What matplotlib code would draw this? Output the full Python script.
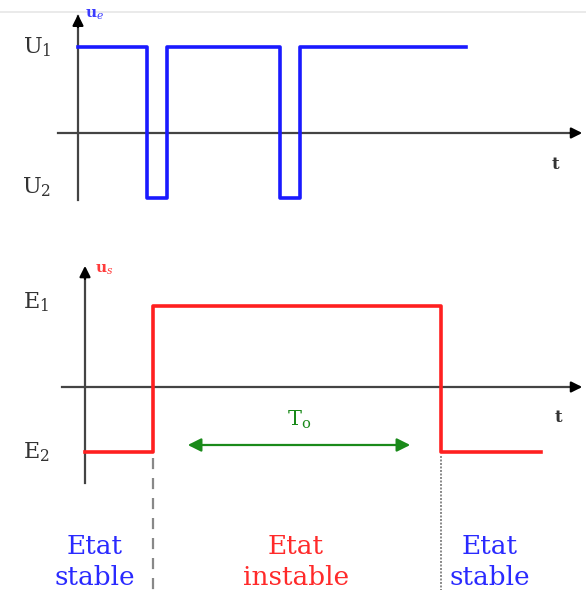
import numpy as np
import matplotlib
matplotlib.use("Agg")
import matplotlib.pyplot as plt

plt.rcParams['font.family'] = ['DejaVu Serif']
plt.rcParams['mathtext.fontset'] = 'dejavuserif'

# input signal u_e : time of each edge and level between edges
ue_t = [0.0, 3.45, 3.45, 4.45, 4.45, 10.1, 10.1, 11.1, 11.1, 19.4]
ue_v = [1.0, 1.0, -0.76, -0.76, 1.0, 1.0, -0.76, -0.76, 1.0, 1.0]
U1, U2 = 1.0, -0.76

# output signal u_s
us_t = [0.0, 3.4, 3.4, 17.8, 17.8, 22.8]
us_v = [-0.8, -0.8, 1.0, 1.0, -0.8, -0.8]
E1, E2 = 1.0, -0.8

t_arrow = [5.0, 16.4]   # T0 arrow ends
labels = ["Etat\nstable", "Etat\ninstable", "Etat\nstable"]
label_t = [0.5, 10.55, 20.25]
label_col = ["#2a2aff", "#ff2a2a", "#2a2aff"]

W, H = 586, 598
fig = plt.figure(figsize=(5.86, 5.98), dpi=100)


def box(y0, y1):
    return [0, 1 - y1 / H, 1, (y1 - y0) / H]


axis_col = "#444444"

# ---- top panel (input) ----
ax1 = fig.add_axes(box(0, 215))
ax1.set_xlim(-78 / 20, (W - 78) / 20)
ax1.set_ylim(-(215 - 133) / 86, 133 / 86)
ax1.axis("off")
ax1.axhline(1.407, color="#e6e6e6", lw=1.2)
ax1.plot([0, 0], [-0.78, 1.36], color=axis_col, lw=1.6)
ax1.annotate("", xy=(0, 1.41), xytext=(0, 1.2),
             arrowprops=dict(arrowstyle="-|>", color="black", lw=1.6, mutation_scale=16))
ax1.plot([-1.0, 25.0], [0, 0], color=axis_col, lw=1.6)
ax1.annotate("", xy=(25.35, 0), xytext=(24.5, 0),
             arrowprops=dict(arrowstyle="-|>", color="black", lw=1.6, mutation_scale=16))
ax1.plot(ue_t, ue_v, color="#1a1aff", lw=2.6)
ax1.text(-2.05, U1, r"U$_1$", fontsize=16, ha="center", va="center", color="#333333")
ax1.text(-2.05, U2 + 0.13, r"U$_2$", fontsize=16, ha="center", va="center", color="#333333")
ax1.text(0.35, 1.38, r"u$_e$", fontsize=11, ha="left", va="center", color="#3b3bff",
         fontweight="bold")
ax1.text(23.85, -0.37, "t", fontsize=12, ha="center", va="center", color="#333333",
         fontweight="bold")

# ---- bottom panel (output) ----
ax2 = fig.add_axes(box(250, 598))
ax2.set_xlim(-85 / 20, (W - 85) / 20)
ax2.set_ylim(-(598 - 387) / 81, (387 - 250) / 81)
ax2.axis("off")
ax2.plot([0, 0], [-1.19, 1.35], color=axis_col, lw=1.6)
ax2.annotate("", xy=(0, 1.53), xytext=(0, 1.3),
             arrowprops=dict(arrowstyle="-|>", color="black", lw=1.6, mutation_scale=16))
ax2.plot([-1.15, 24.7], [0, 0], color=axis_col, lw=1.6)
ax2.annotate("", xy=(25.0, 0), xytext=(24.2, 0),
             arrowprops=dict(arrowstyle="-|>", color="black", lw=1.6, mutation_scale=16))
ax2.plot([us_t[1], us_t[1]], [E2 - 0.08, -2.51], color="#888888", lw=1.6,
         ls=(0, (5, 4)))
ax2.plot([us_t[3], us_t[3]], [E2 - 0.05, -2.51], color="#888888", lw=1.4,
         ls=(0, (1, 0.8)))
ax2.plot(us_t, us_v, color="#ff2020", lw=2.6)
ax2.annotate("", xy=(t_arrow[0], -0.716), xytext=(t_arrow[1], -0.716),
             arrowprops=dict(arrowstyle="<|-|>", color="#1a8a1a", lw=1.6, mutation_scale=20))
ax2.text(np.mean(t_arrow), -0.41, r"T$_\mathrm{o}$", fontsize=15, ha="center", va="center",
         color="#1a8a1a")
ax2.text(-2.45, E1 + 0.05, r"E$_1$", fontsize=16, ha="center", va="center", color="#333333")
ax2.text(-2.45, E2, r"E$_2$", fontsize=16, ha="center", va="center", color="#333333")
ax2.text(0.5, 1.45, r"u$_s$", fontsize=11, ha="left", va="center", color="#ff3b3b",
         fontweight="bold")
ax2.text(23.65, -0.38, "t", fontsize=12, ha="center", va="center", color="#333333",
         fontweight="bold")
for lab, tx, c in zip(labels, label_t, label_col):
    ax2.text(tx, -2.16, lab, fontsize=19, ha="center", va="center", color=c,
             linespacing=1.3)

fig.savefig("out.png", dpi=100, facecolor="white")
